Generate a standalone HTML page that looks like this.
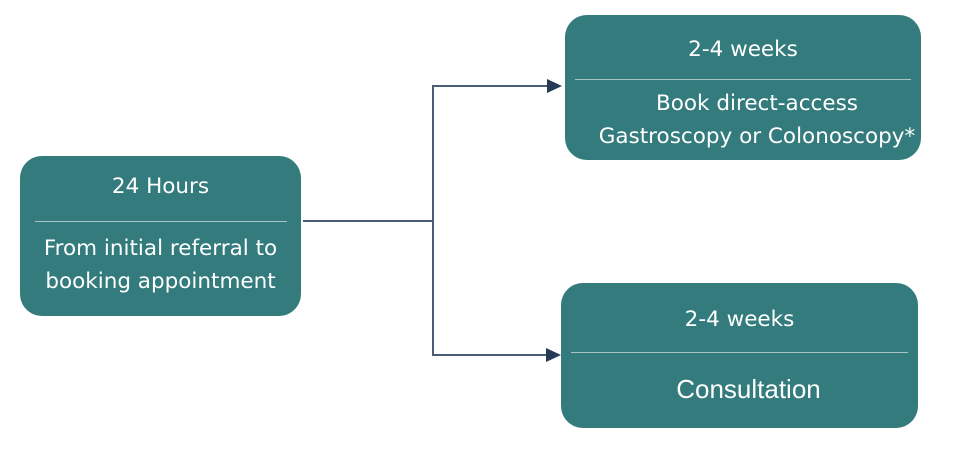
<!DOCTYPE html>
<html><head><meta charset="utf-8"><style>
body{margin:0;width:969px;height:456px;background:#fff;position:relative;overflow:hidden;font-family:"DejaVu Sans","Liberation Sans",sans-serif;color:#fff}
.b{position:absolute;background:#337b7c;border-radius:22px}
.t{position:absolute;left:-20px;right:-20px;text-align:center;font-size:21.5px;line-height:33px}
.s{position:absolute;height:1px;background:#a9c4c4}
</style></head><body>
<svg width="969" height="456" style="position:absolute;left:0;top:0">
<g stroke="#4a5d74" stroke-width="2" fill="none">
<line x1="303" y1="221" x2="433" y2="221"/>
<polyline points="549,86 433,86 433,355 548,355"/>
</g>
<polygon points="562,86 547,79 547,93" fill="#243a55"/>
<polygon points="561,355 546,348 546,362" fill="#243a55"/>
</svg>
<div class="b" style="left:20px;top:156px;width:281px;height:160px">
<div class="t" style="top:14px">24 Hours</div>
<div class="s" style="left:15px;right:14px;top:65px"></div>
<div class="t" style="top:76px">From initial referral to<br>booking appointment</div>
</div>
<div class="b" style="left:565px;top:15px;width:356px;height:145px">
<div class="t" style="top:18px">2-4 weeks</div>
<div class="s" style="left:10px;right:10px;top:64px"></div>
<div class="t" style="top:72px;left:-6px;right:-34px">Book direct-access<br>Gastroscopy or Colonoscopy*</div>
</div>
<div class="b" style="left:561px;top:283px;width:357px;height:145px">
<div class="t" style="top:20px">2-4 weeks</div>
<div class="s" style="left:10px;right:10px;top:69px"></div>
<div class="t" style="top:90px;left:-11px;right:-29px;font-family:'Liberation Sans',sans-serif;font-size:26px">Consultation</div>
</div>
</body></html>
